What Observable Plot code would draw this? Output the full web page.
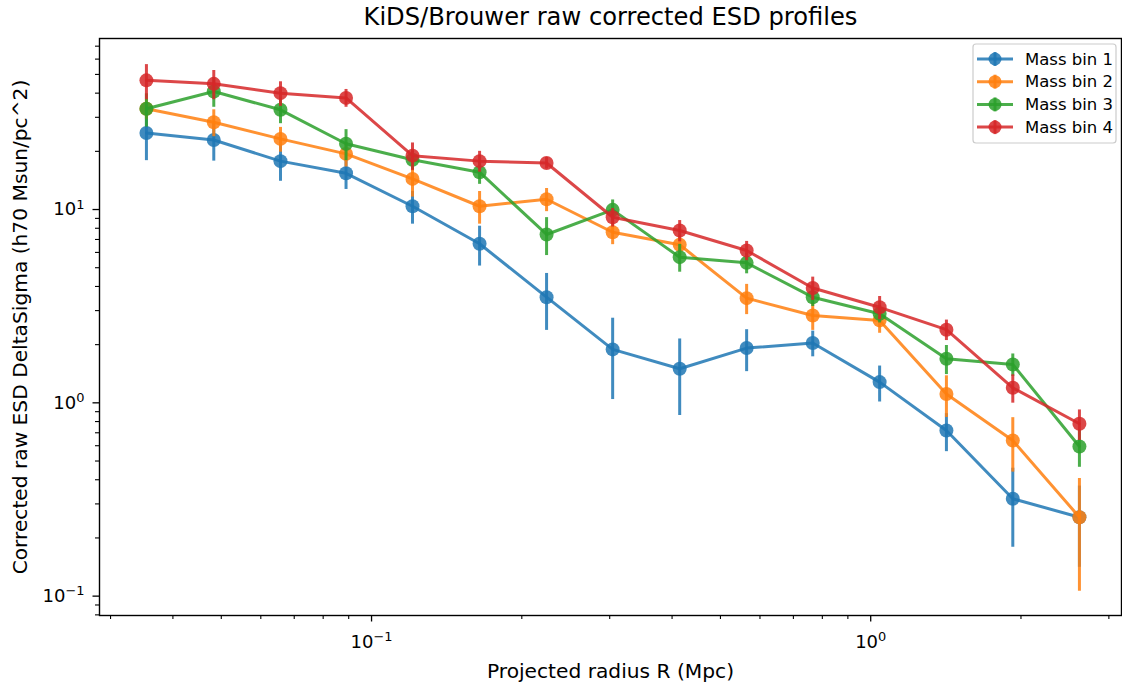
<!DOCTYPE html>
<html>
<head>
<meta charset="utf-8">
<script src="https://cdn.jsdelivr.net/npm/d3@7"></script>
<script src="https://cdn.jsdelivr.net/npm/@observablehq/plot@0.6"></script>
<style>
  html, body { margin: 0; padding: 0; background: #fff; }
  #chart { width: 1122px; height: 687px; }
</style>
</head>
<body>
<div id="chart"></div>
<script>
// ---- data ----
const radius = [0.0354, 0.0483, 0.0657, 0.0889, 0.1208, 0.1646, 0.2242, 0.3041, 0.4143, 0.5642, 0.7653, 1.042, 1.418, 1.926, 2.619];

const esdBin1 = [24.9, 22.9, 17.8, 15.4, 10.4, 6.65, 3.52, 1.89, 1.50, 1.92, 2.04, 1.28, 0.719, 0.319, 0.256];
const errBin1 = [7.0, 5.1, 3.8, 2.7, 2.0, 1.55, 1.15, 0.85, 0.64, 0.47, 0.31, 0.27, 0.16, 0.14, 0.115];
const esdBin2 = [33.2, 28.3, 23.2, 19.4, 14.4, 10.4, 11.3, 7.63, 6.57, 3.48, 2.83, 2.67, 1.11, 0.638, 0.256];
const errBin2 = [4.0, 4.5, 3.4, 2.8, 2.8, 2.0, 1.55, 1.05, 0.8, 0.62, 0.46, 0.38, 0.27, 0.2, 0.15];
const esdBin3 = [33.2, 40.8, 32.8, 21.9, 18.1, 15.6, 7.43, 9.96, 5.67, 5.30, 3.52, 2.89, 1.69, 1.58, 0.594];
const errBin3 = [6.5, 7.0, 5.0, 4.0, 2.0, 2.1, 1.65, 1.25, 0.93, 0.65, 0.37, 0.3, 0.29, 0.21, 0.13];
const esdBin4 = [46.6, 44.7, 40.0, 37.8, 19.0, 17.8, 17.4, 9.12, 7.79, 6.14, 3.93, 3.12, 2.39, 1.196, 0.779];
const errBin4 = [9.6, 7.7, 5.8, 4.0, 3.1, 2.2, 1.2, 1.0, 0.98, 0.7, 0.54, 0.43, 0.29, 0.2, 0.14];

const seriesNames = ["Mass bin 1", "Mass bin 2", "Mass bin 3", "Mass bin 4"];
const seriesColors = ["#1f77b4", "#ff7f0e", "#2ca02c", "#d62728"];

const xMajorTicks = [0.1, 1];
const xMajorLabels = ["10^−1", "10^0"];
const xMinorTicks = [0.03, 0.04, 0.05, 0.06, 0.07, 0.08, 0.09, 0.2, 0.3, 0.4, 0.5, 0.6, 0.7, 0.8, 0.9, 2, 3];
const yMajorTicks = [0.1, 1, 10];
const yMajorLabels = ["10^−1", "10^0", "10^1"];
const yMinorTicks = [0.08, 0.09, 0.2, 0.3, 0.4, 0.5, 0.6, 0.7, 0.8, 0.9, 2, 3, 4, 5, 6, 7, 8, 9, 20, 30, 40, 50, 60, 70];

const titleText = "KiDS/Brouwer raw corrected ESD profiles";
const xLabelText = "Projected radius R (Mpc)";
const yLabelText = "Corrected raw ESD DeltaSigma (h70 Msun/pc^2)";

// ---- table built from the arrays ----
const esdAll = [esdBin1, esdBin2, esdBin3, esdBin4];
const errAll = [errBin1, errBin2, errBin3, errBin4];
const table = [];
esdAll.forEach((vals, s) => {
  vals.forEach((v, i) => {
    table.push({series: seriesNames[s], r: radius[i], esd: v, err: errAll[s][i]});
  });
});

const FONT = "DejaVu Sans, Liberation Sans, sans-serif";
const ALPHA = 0.85;

const seriesMarks = seriesNames.flatMap((name, s) => {
  const d = table.filter(t => t.series === name);
  const c = seriesColors[s];
  return [
    Plot.ruleX(d, {x: "r", y1: t => t.esd - t.err, y2: t => t.esd + t.err, stroke: c, strokeWidth: 3, strokeOpacity: ALPHA}),
    Plot.line(d, {x: "r", y: "esd", stroke: c, strokeWidth: 3, strokeOpacity: ALPHA}),
    Plot.dot(d, {x: "r", y: "esd", r: 7, fill: c, fillOpacity: ALPHA, stroke: "none"})
  ];
});

const plot = Plot.plot({
  width: 1122,
  height: 687,
  marginLeft: 99,
  marginRight: 1,
  marginTop: 38,
  marginBottom: 72,
  style: {fontFamily: FONT, fontSize: "18px", color: "#000", background: "#fff"},
  x: {type: "log", domain: [0.02851, 3.18]},
  y: {type: "log", domain: [0.0794, 76.7]},
  marks: [
    ...seriesMarks,
    Plot.frame({stroke: "#000", strokeWidth: 1.4}),
    Plot.axisX({ticks: xMinorTicks, tickFormat: () => "", tickSize: 4, strokeWidth: 1.1, label: null}),
    Plot.axisX({ticks: xMajorTicks, tickFormat: (d) => xMajorLabels[xMajorTicks.indexOf(d)], tickSize: 6.5, tickPadding: 13, strokeWidth: 1.3, label: null, fontSize: 18}),
    Plot.axisY({ticks: yMinorTicks, tickFormat: () => "", tickSize: 4, strokeWidth: 1.1, label: null}),
    Plot.axisY({ticks: yMajorTicks, tickFormat: (d) => yMajorLabels[yMajorTicks.indexOf(d)], tickSize: 6.5, tickPadding: 8.5, strokeWidth: 1.3, label: null, fontSize: 18}),
    Plot.text([titleText], {frameAnchor: "top", dy: -21, textAnchor: "middle", lineAnchor: "middle", text: d => d, fontSize: 24.2, fill: "#000"}),
    Plot.text([xLabelText], {frameAnchor: "bottom", dy: 56, textAnchor: "middle", lineAnchor: "middle", text: d => d, fontSize: 20.2, fill: "#000"}),
    Plot.text([yLabelText], {frameAnchor: "left", dx: -79, rotate: -90, textAnchor: "middle", lineAnchor: "middle", text: d => d, fontSize: 20.2, fill: "#000"})
  ]
});

document.getElementById("chart").appendChild(plot);

// superscript exponents in tick labels (matplotlib mathtext look)
d3.select(plot).selectAll("text").each(function () {
  const t = this.textContent;
  const m = /^10\^(.+)$/.exec(t);
  if (!m) return;
  const sel = d3.select(this);
  sel.text("");
  sel.append("tspan").text("10");
  sel.append("tspan").attr("dy", "-0.5em").attr("font-size", "0.72em").text(m[1]);
});

// legend (matplotlib style, upper right)
const svg = d3.select(plot);
const lg = svg.append("g").attr("font-family", FONT).attr("text-anchor", "start");
lg.append("rect").attr("x", 973).attr("y", 44).attr("width", 143).attr("height", 99)
  .attr("rx", 3).attr("fill", "#fff").attr("fill-opacity", 0.8).attr("stroke", "#cccccc").attr("stroke-width", 1.2);
seriesNames.forEach((name, i) => {
  const cy = 59 + i * 22.7;
  const c = seriesColors[i];
  lg.append("line").attr("x1", 977).attr("x2", 1013).attr("y1", cy).attr("y2", cy)
    .attr("stroke", c).attr("stroke-width", 3).attr("stroke-opacity", ALPHA);
  lg.append("line").attr("x1", 995).attr("x2", 995).attr("y1", cy - 7).attr("y2", cy + 7)
    .attr("stroke", c).attr("stroke-width", 3).attr("stroke-opacity", ALPHA);
  lg.append("circle").attr("cx", 995).attr("cy", cy).attr("r", 6.5).attr("fill", c).attr("fill-opacity", ALPHA);
  lg.append("text").attr("x", 1025).attr("y", cy).attr("dy", "0.35em").attr("font-size", 16.5).attr("fill", "#000").text(name);
});
</script>
</body>
</html>
